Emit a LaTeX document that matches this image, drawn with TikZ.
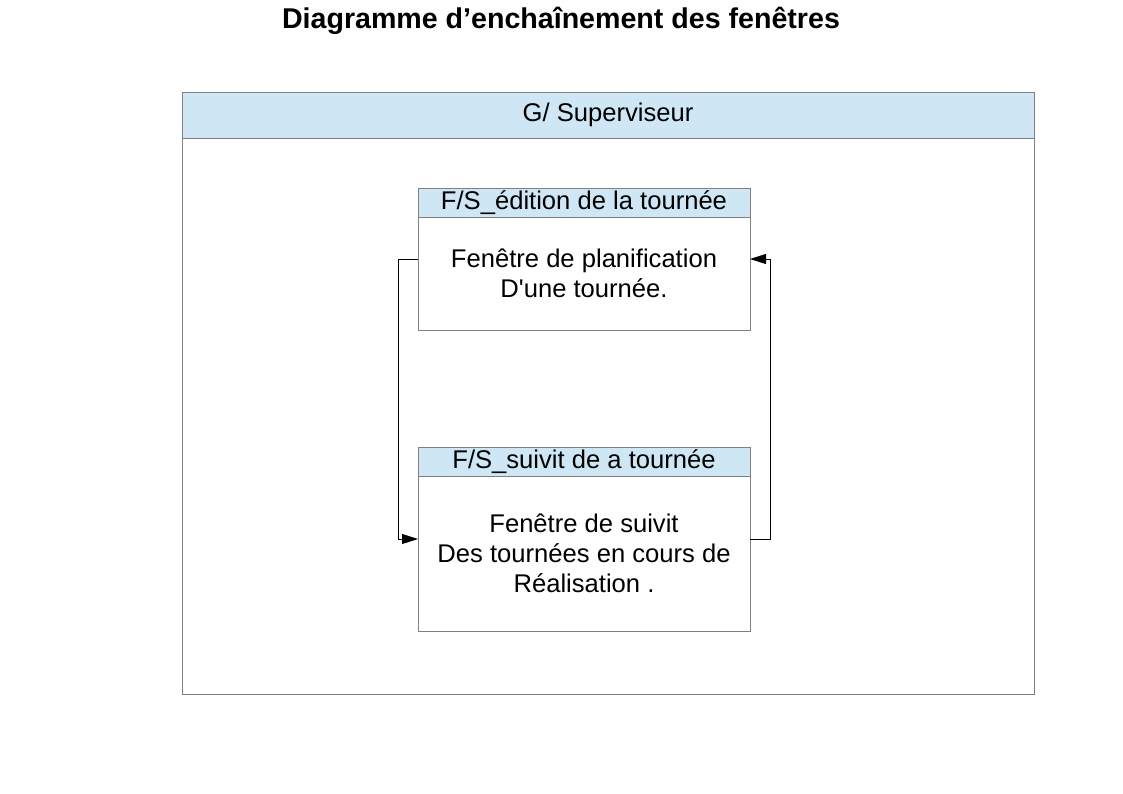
\documentclass[tikz,border=0pt]{standalone}
\usepackage{fontspec}
\setmainfont{Liberation Sans}
\usetikzlibrary{arrows.meta,positioning}
\definecolor{headblue}{RGB}{207,231,244}
\definecolor{linegray}{RGB}{128,128,128}

\begin{document}
\begin{tikzpicture}[
  x=1pt,y=-1pt,
  font=\fontsize{25.6}{30}\selectfont,
  frame/.style={draw=linegray,line width=0.8pt,inner sep=0pt,outer sep=0pt,align=center},
  win/.style={frame,minimum width=332pt},
  head/.style={win,fill=headblue,minimum height=29pt},
  arr/.style={-{Triangle[length=16pt,width=10pt]},line width=0.8pt}
]
\useasboundingbox (0,0) rectangle (1123,794);

% ---- title ----
\node[font=\bfseries\fontsize{28.6}{32}\selectfont] (title) at (561,21)
   {Diagramme d’enchaînement des fenêtres};

% ---- supervisor frame ----
\node[frame,minimum width=852pt,minimum height=556pt] (sv) at (608,416) {};
\node[frame,fill=headblue,minimum width=852pt,minimum height=46pt,above=0pt of sv] (svhd)
   {G/ Superviseur};

% ---- windows ----
\node[win,minimum height=113pt] (plan) at (584,273.5)
   {Fenêtre de planification\\D\textquotesingle une tournée.};
\node[head,above=0pt of plan] (planhd) {F/S\_édition de la tournée};

\node[win,minimum height=155pt] (suivi) at (584,553.5)
   {Fenêtre de suivit\\Des tournées en cours de\\Réalisation .};
\node[head,above=0pt of suivi] (suivihd) {F/S\_suivit de a tournée};

% ---- links ----
\draw[arr] ([yshift=14.5pt]plan.west) -- ++(-20,0) |- ([yshift=14.5pt]suivi.west);
\draw[arr] ([yshift=14.5pt]suivi.east) -- ++(20,0) |- ([yshift=14.5pt]plan.east);
\end{tikzpicture}
\end{document}
